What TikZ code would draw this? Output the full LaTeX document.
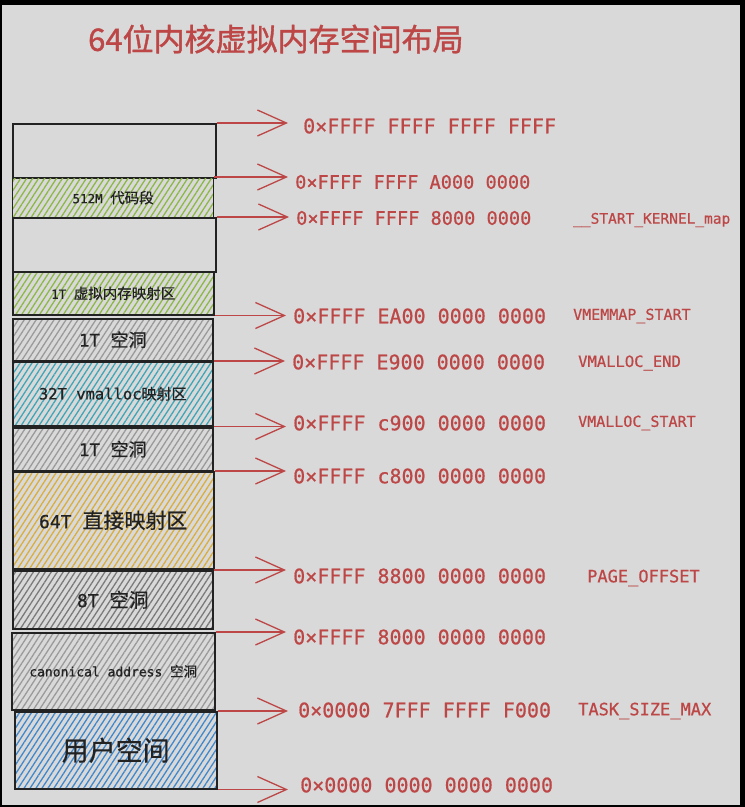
\documentclass[tikz,border=0pt]{standalone}
\usepackage{fontspec}
\newfontfamily\cjk[FakeBold=0.5]{Noto Sans CJK SC}
\newfontfamily\cjktitle[FakeBold=1.2]{Noto Sans CJK SC}
\newfontfamily\mono[FakeBold=0.6]{DejaVu Sans Mono}
\usetikzlibrary{arrows.meta,patterns.meta}
\definecolor{bg}{HTML}{D9D9D9}
\definecolor{addrred}{HTML}{BD4646}
\definecolor{ink}{HTML}{222222}
\definecolor{hgreen}{HTML}{8CB845}
\definecolor{hteal}{HTML}{3FA6B8}
\definecolor{hyellow}{HTML}{D9AE3C}
\definecolor{hblue}{HTML}{4088CC}
\definecolor{hgray}{HTML}{9A9A9A}
\definecolor{hdgray}{HTML}{7A7A7A}
\newcommand\mylat[2]{{\mono\fontsize{#1}{#1}\selectfont #2}}
\newcommand\myzh[2]{{\cjk\fontsize{#1}{#1}\selectfont #2}}
\begin{document}
\begin{tikzpicture}[x=1pt,y=-1pt,
  memblock/.style={draw=ink, line width=1.5pt, anchor=north west, inner sep=0pt, text=ink, align=center},
  hatch/.style={pattern={Lines[angle=57,distance=5pt,line width=1.3pt]}, pattern color=#1},
  addr/.style={anchor=west, inner sep=0pt, text=addrred},
  tag/.style={anchor=west, inner sep=0pt, text=addrred},
  arr/.style={draw=addrred, line width=1.3pt, -{Straight Barb[length=29pt,width=26pt,line width=1.3pt]}, shorten >=7pt}
]
\fill[black] (0,0) rectangle (745,807);
\fill[bg] (2,5) rectangle (740,805);
\useasboundingbox (0,0) rectangle (745,807);

% title
\node[anchor=west, inner sep=0pt, text=addrred, font=\cjktitle\fontsize{31}{31}\selectfont] (title) at (88,39) {64位内核虚拟内存空间布局};

% memory blocks
\node[memblock, minimum width=203pt, minimum height=54pt] (b1) at (12,123) {};
\node[memblock, minimum width=201pt, minimum height=40pt, hatch=hgreen] (b2) at (12,177) {\mylat{12.5}{512M }\myzh{14.5}{代码段}};
\node[memblock, minimum width=203pt, minimum height=54pt] (b3) at (12,217) {};
\node[memblock, minimum width=201pt, minimum height=43pt, hatch=hgreen] (b4) at (12,271) {\mylat{12.5}{1T }\myzh{14.5}{虚拟内存映射区}};
\node[memblock, minimum width=200pt, minimum height=42pt, hatch=hgray] (b5) at (12,318) {\mylat{17.5}{1T }\myzh{18}{空洞}};
\node[memblock, minimum width=200pt, minimum height=64pt, hatch=hteal] (b6) at (12,361) {\mylat{15.5}{32T vmalloc}\myzh{15}{映射区}};
\node[memblock, minimum width=200pt, minimum height=43pt, hatch=hgray] (b7) at (12,427) {\mylat{17.5}{1T }\myzh{18}{空洞}};
\node[memblock, minimum width=201pt, minimum height=97pt, hatch=hyellow] (b8) at (12,471) {\mylat{18}{64T }\myzh{21}{直接映射区}};
\node[memblock, minimum width=200pt, minimum height=58pt, hatch=hdgray] (b9) at (12,570) {\mylat{18}{8T }\myzh{19.5}{空洞}};
\node[memblock, minimum width=203pt, minimum height=77pt, hatch=hgray] (b10) at (11,632) {\mylat{13}{canonical address }\myzh{13.5}{空洞}};
\node[memblock, minimum width=202pt, minimum height=77pt, hatch=hblue] (b11) at (14,711) {\myzh{27}{用户空间}};

% addresses
\node[addr, font=\mono\fontsize{20}{20}\selectfont] (a1) at (303,126) {0×FFFF FFFF FFFF FFFF};
\node[addr, font=\mono\fontsize{18.6}{18.6}\selectfont] (a2) at (295,182) {0×FFFF FFFF A000 0000};
\node[addr, font=\mono\fontsize{18.6}{18.6}\selectfont] (a3) at (296,218) {0×FFFF FFFF 8000 0000};
\node[addr, font=\mono\fontsize{20}{20}\selectfont] (a4) at (293,316) {0×FFFF EA00 0000 0000};
\node[addr, font=\mono\fontsize{20}{20}\selectfont] (a5) at (292,362) {0×FFFF E900 0000 0000};
\node[addr, font=\mono\fontsize{20}{20}\selectfont] (a6) at (293,423) {0×FFFF c900 0000 0000};
\node[addr, font=\mono\fontsize{20}{20}\selectfont] (a7) at (293,476) {0×FFFF c800 0000 0000};
\node[addr, font=\mono\fontsize{20}{20}\selectfont] (a8) at (293,576) {0×FFFF 8800 0000 0000};
\node[addr, font=\mono\fontsize{20}{20}\selectfont] (a9) at (293,637) {0×FFFF 8000 0000 0000};
\node[addr, font=\mono\fontsize{20}{20}\selectfont] (a10) at (298,710) {0×0000 7FFF FFFF F000};
\node[addr, font=\mono\fontsize{20}{20}\selectfont] (a11) at (300,785) {0×0000 0000 0000 0000};

% symbolic names
\node[tag, font=\mono\fontsize{14.5}{14.5}\selectfont] (t3) at (573,220) {\_\_START\_KERNEL\_map};
\node[tag, font=\mono\fontsize{15}{15}\selectfont] (t4) at (573,316) {VMEMMAP\_START};
\node[tag, font=\mono\fontsize{15.5}{15.5}\selectfont] (t5) at (578,363) {VMALLOC\_END};
\node[tag, font=\mono\fontsize{15}{15}\selectfont] (t6) at (578,423) {VMALLOC\_START};
\node[tag, font=\mono\fontsize{17}{17}\selectfont] (t8) at (587,578) {PAGE\_OFFSET};
\node[tag, font=\mono\fontsize{17}{17}\selectfont] (t10) at (578,711) {TASK\_SIZE\_MAX};

% arrows
\draw[arr, shorten >=15pt] (b1.north east) -- (b1.north east -| a1.west);
\draw[arr] (b2.north east) -- (b2.north east -| a2.west);
\draw[arr] (b3.north east) -- (b3.north east -| a3.west);
\draw[arr] (b4.south east) -- (b4.south east -| a4.west);
\draw[arr] (b6.north east) -- (b6.north east -| a5.west);
\draw[arr] (b6.south east) -- (b6.south east -| a6.west);
\draw[arr] (b8.north east) -- (b8.north east -| a7.west);
\draw[arr] (b9.north east) -- (b9.north east -| a8.west);
\draw[arr] (b10.north east) -- (b10.north east -| a9.west);
\draw[arr, shorten >=10pt] (b11.north east) -- (b11.north east -| a10.west);
\draw[arr, shorten >=12pt] (b11.south east) -- (b11.south east -| a11.west);
\end{tikzpicture}
\end{document}
